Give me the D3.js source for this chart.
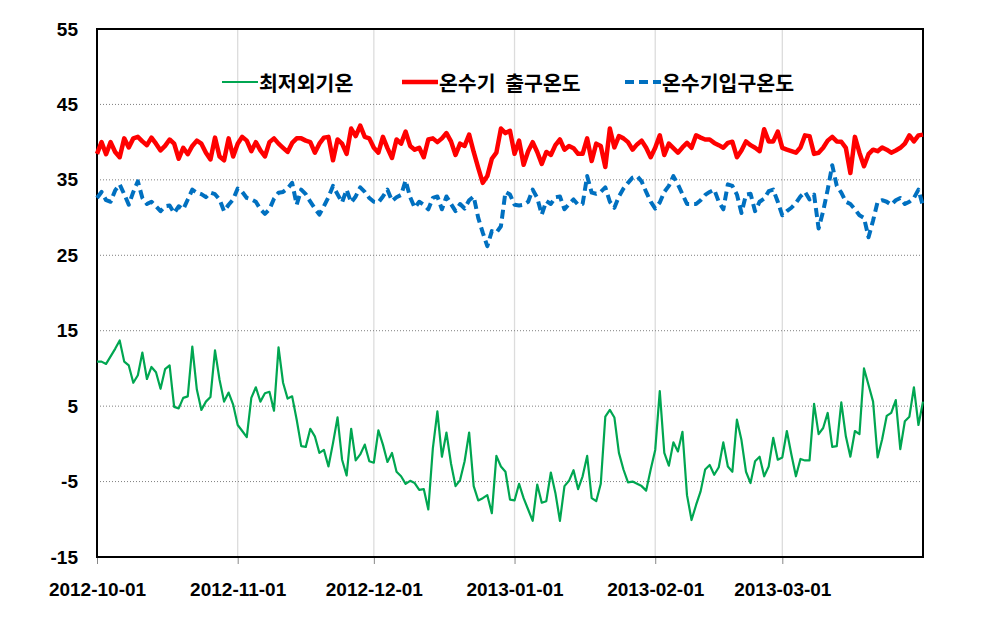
<!DOCTYPE html>
<html><head><meta charset="utf-8">
<script src="https://cdn.jsdelivr.net/npm/d3@7"></script>
<style>
html,body{margin:0;padding:0;background:#fff;}
svg{display:block;}
.tick-lbl{font-family:"Liberation Sans",Arial,sans-serif;font-weight:bold;font-size:19px;fill:#000;}
.leg{font-family:"Noto Sans CJK KR",sans-serif;font-weight:bold;font-size:20.5px;fill:#000;}
</style></head>
<body>
<svg id="chart" width="982" height="642"></svg>
<script>
const seriesNames = ["최저외기온", "온수기 출구온도", "온수기입구온도"];
const xTickLabels = ["2012-10-01","2012-11-01","2012-12-01","2013-01-01","2013-02-01","2013-03-01"];
const yTicks = [-15,-5,5,15,25,35,45,55];
const startDate = "2012-10-01";
const endDate = "2013-04-01";

const minOutdoor = [
10.9,10.9,10.6,11.6,12.6,13.7,10.9,10.4,8.1,9.1,
12.1,8.6,10.2,9.5,7.3,9.9,10.4,4.9,4.7,6.1,
6.3,12.9,7.2,4.5,5.6,6.2,12.4,8.5,5.6,6.8,
5.2,2.5,1.7,0.9,6.1,7.5,5.6,6.7,6.9,4.4,
12.8,8.1,6.0,6.3,3.2,-0.3,-0.4,2.0,1.0,-1.2,
-0.8,-3.0,0.1,3.5,-2.1,-4.2,2.0,-2.2,-1.4,-0.1,
-2.3,-2.5,1.8,-0.1,-2.4,-1.2,-3.7,-4.3,-5.3,-4.9,
-5.2,-6.1,-6.0,-8.7,-0.6,4.3,-1.7,1.5,-2.6,-5.6,
-4.8,-2.3,1.5,-5.6,-7.5,-7.2,-6.8,-9.2,-1.6,-3.0,
-3.7,-7.4,-7.5,-5.3,-7.2,-8.7,-10.2,-5.4,-7.8,-7.6,
-3.8,-6.5,-10.2,-5.6,-4.9,-3.5,-6.0,-4.3,-1.6,-7.2,
-7.6,-5.3,3.6,4.5,3.5,-1.2,-3.4,-5.1,-5.0,-5.3,
-5.6,-6.2,-3.4,-0.8,7.0,-1.2,-2.9,0.2,-1.0,1.6,
-6.8,-10.1,-8.1,-6.3,-3.4,-2.8,-4.1,-3.1,0.2,-3.0,
-3.7,3.2,0.5,-3.7,-5.2,-2.3,-1.7,-4.3,-3.0,0.8,
-2.1,-1.8,1.7,-1.4,-4.3,-2.0,-2.2,-2.2,5.3,1.3,
2.1,4.1,-0.4,-0.3,5.5,1.0,-1.7,1.7,1.3,10.0,
7.8,5.6,-1.8,0.6,3.7,4.1,5.8,-0.7,3.0,3.6,
7.5,2.5,5.6];

const outletTemp = [
38.45,40.0,38.4,40.0,38.7,38.0,40.5,39.3,40.5,40.7,
40.1,39.6,40.6,39.8,38.9,39.5,40.35,39.8,37.8,39.25,
38.4,39.5,40.2,39.8,38.6,37.7,40.6,38.1,37.6,40.5,
38.1,39.8,40.7,40.2,38.8,40.0,38.9,38.1,40.0,40.5,
39.8,39.25,38.7,39.9,40.5,
40.5,40.2,40.0,38.6,39.8,40.6,40.7,37.6,40.35,39.8,
38.45,41.8,40.8,42.2,40.7,40.5,39.25,38.6,40.7,39.2,
37.9,40.35,39.8,41.4,39.5,39.0,39.25,38.0,40.35,40.5,
40.0,40.5,41.2,40.1,38.3,39.8,39.5,41.0,38.7,36.6,
34.6,35.5,37.8,38.6,41.8,41.2,41.5,
38.45,40.2,37.0,38.8,40.0,38.7,37.1,38.7,38.3,39.6,
40.35,39.0,39.5,39.2,38.45,38.45,40.5,37.5,39.8,39.5,
36.7,41.8,39.3,40.8,40.5,40.0,39.0,39.7,40.2,39.25,
38.0,39.25,40.9,38.3,39.8,39.2,38.6,39.3,39.9,39.25,
40.9,40.6,40.35,
40.35,39.9,39.6,39.25,39.9,40.05,38.0,38.9,40.1,39.6,
39.25,38.8,41.7,40.1,40.1,41.4,39.25,39.0,38.8,38.6,
39.3,40.9,40.8,38.45,38.6,39.25,40.2,40.7,40.1,40.05,
39.25,35.9,40.7,38.6,36.8,38.4,39.0,38.8,39.3,39.0,
38.6,38.9,39.25,39.8,40.9,40.1,40.9,41.0];

const inletTemp = [
32.6,33.4,32.3,32.1,33.6,34.4,33.1,31.7,33.4,34.8,
32.6,31.8,32.1,31.5,30.85,31.5,31.6,30.6,31.5,31.1,
32.4,33.7,33.3,33.1,32.7,33.3,33.1,32.4,30.85,31.7,
32.4,33.85,33.4,32.6,32.4,32.1,31.1,30.5,31.1,32.5,
33.3,33.4,33.85,34.6,31.7,
33.7,33.1,32.1,31.2,30.4,31.5,32.7,34.2,33.1,32.0,
33.7,32.0,32.8,34.0,33.4,32.6,32.1,32.0,32.8,33.7,
32.2,32.7,33.0,34.9,32.7,31.3,32.1,31.7,31.1,32.6,
32.8,31.1,32.8,31.8,30.85,31.8,31.2,32.3,32.8,29.96,
28.0,26.2,28.2,28.0,28.85,
33.4,33.05,31.7,31.6,31.7,32.1,33.7,32.6,30.4,32.2,
31.8,32.7,32.8,31.1,31.8,32.4,31.7,31.8,35.5,33.3,
33.15,33.4,34.0,32.1,31.3,32.8,33.85,34.6,35.3,35.5,
34.8,33.4,32.1,31.2,32.0,33.4,34.2,35.5,34.4,33.1,
31.8,31.8,31.8,32.3,33.0,
33.4,33.7,32.1,31.1,34.4,34.2,33.05,30.6,33.05,33.15,
30.85,32.1,32.5,33.5,33.7,32.1,30.3,30.85,31.3,31.95,
32.8,33.4,32.4,33.05,28.55,30.85,33.7,36.95,34.2,33.3,
32.1,31.8,31.1,30.3,29.96,27.4,29.6,32.1,32.3,32.1,
31.7,32.3,32.6,31.8,32.1,32.6,33.7,31.5];

const parse = d3.utcParse("%Y-%m-%d");
const t0 = parse(startDate), t1 = parse(endDate);
const dates = minOutdoor.map((_, i) => d3.utcDay.offset(t0, i));

const svg = d3.select("#chart");
const L = 97, R = 923, T = 29, B = 557;
const x = d3.scaleUtc().domain([t0, t1]).range([L, R]);
const y = d3.scaleLinear().domain([-15, 55]).range([B, T]);

// vertical gridlines
const tickDates = xTickLabels.map(parse);
svg.append("g").selectAll("line").data(tickDates.slice(1)).join("line")
  .attr("x1", d => x(d)).attr("x2", d => x(d)).attr("y1", T).attr("y2", B)
  .attr("stroke", "#dcdcdc").attr("stroke-width", 1.3);

// horizontal gridlines
svg.append("g").selectAll("line").data(yTicks.filter(v => v > -15 && v < 55)).join("line")
  .attr("x1", L).attr("x2", R).attr("y1", d => y(d)).attr("y2", d => y(d))
  .attr("stroke", "#7f7f7f").attr("stroke-width", 1).attr("stroke-dasharray", "1,2");

// x axis
const xAxis = d3.axisBottom(x).tickValues(tickDates).tickSize(7).tickFormat(d3.utcFormat("%Y-%m-%d"));
const gx = svg.append("g").attr("transform", `translate(0,${B})`).call(xAxis);
gx.select(".domain").remove();
gx.selectAll(".tick line").attr("stroke", "#888");
gx.selectAll(".tick text").attr("class", "tick-lbl").attr("dy", null).attr("y", 39);
gx.attr("font-size", null).attr("font-family", null);

// y axis
const yAxis = d3.axisLeft(y).tickValues(yTicks).tickSize(0).tickPadding(19).tickFormat(d => String(d));
const gy = svg.append("g").attr("transform", `translate(${L},0)`).call(yAxis);
gy.select(".domain").remove();
gy.selectAll(".tick text").attr("class", "tick-lbl");
gy.attr("font-size", null).attr("font-family", null);

// frame
svg.append("rect").attr("x", L).attr("y", T).attr("width", R - L).attr("height", B - T)
  .attr("fill", "none").attr("stroke", "#000").attr("stroke-width", 2);

const line = d3.line().x((d, i) => x(dates[i])).y(d => y(d));
const colors = ["#00A651", "#FF0000", "#0070C0"];
const data = [minOutdoor, outletTemp, inletTemp];
const widths = [2.2, 4.5, 4];
const dashes = [null, null, "9,5"];

data.forEach((s, k) => {
  svg.append("path").datum(s).attr("d", line)
    .attr("fill", "none").attr("stroke", colors[k]).attr("stroke-width", widths[k])
    .attr("stroke-linejoin", "round").attr("stroke-dasharray", dashes[k]);
});

// legend
const legX = [222, 402, 625];
const legY = 82;
seriesNames.forEach((n, k) => {
  svg.append("line").attr("x1", legX[k]).attr("x2", legX[k] + 36).attr("y1", legY).attr("y2", legY)
    .attr("stroke", colors[k]).attr("stroke-width", widths[k]).attr("stroke-dasharray", k === 2 ? "9,5" : null);
  svg.append("text").attr("class", "leg").attr("x", legX[k] + 37).attr("y", legY)
    .attr("dominant-baseline", "central").style("word-spacing", "5px").text(n);
});
</script>
</body></html>
